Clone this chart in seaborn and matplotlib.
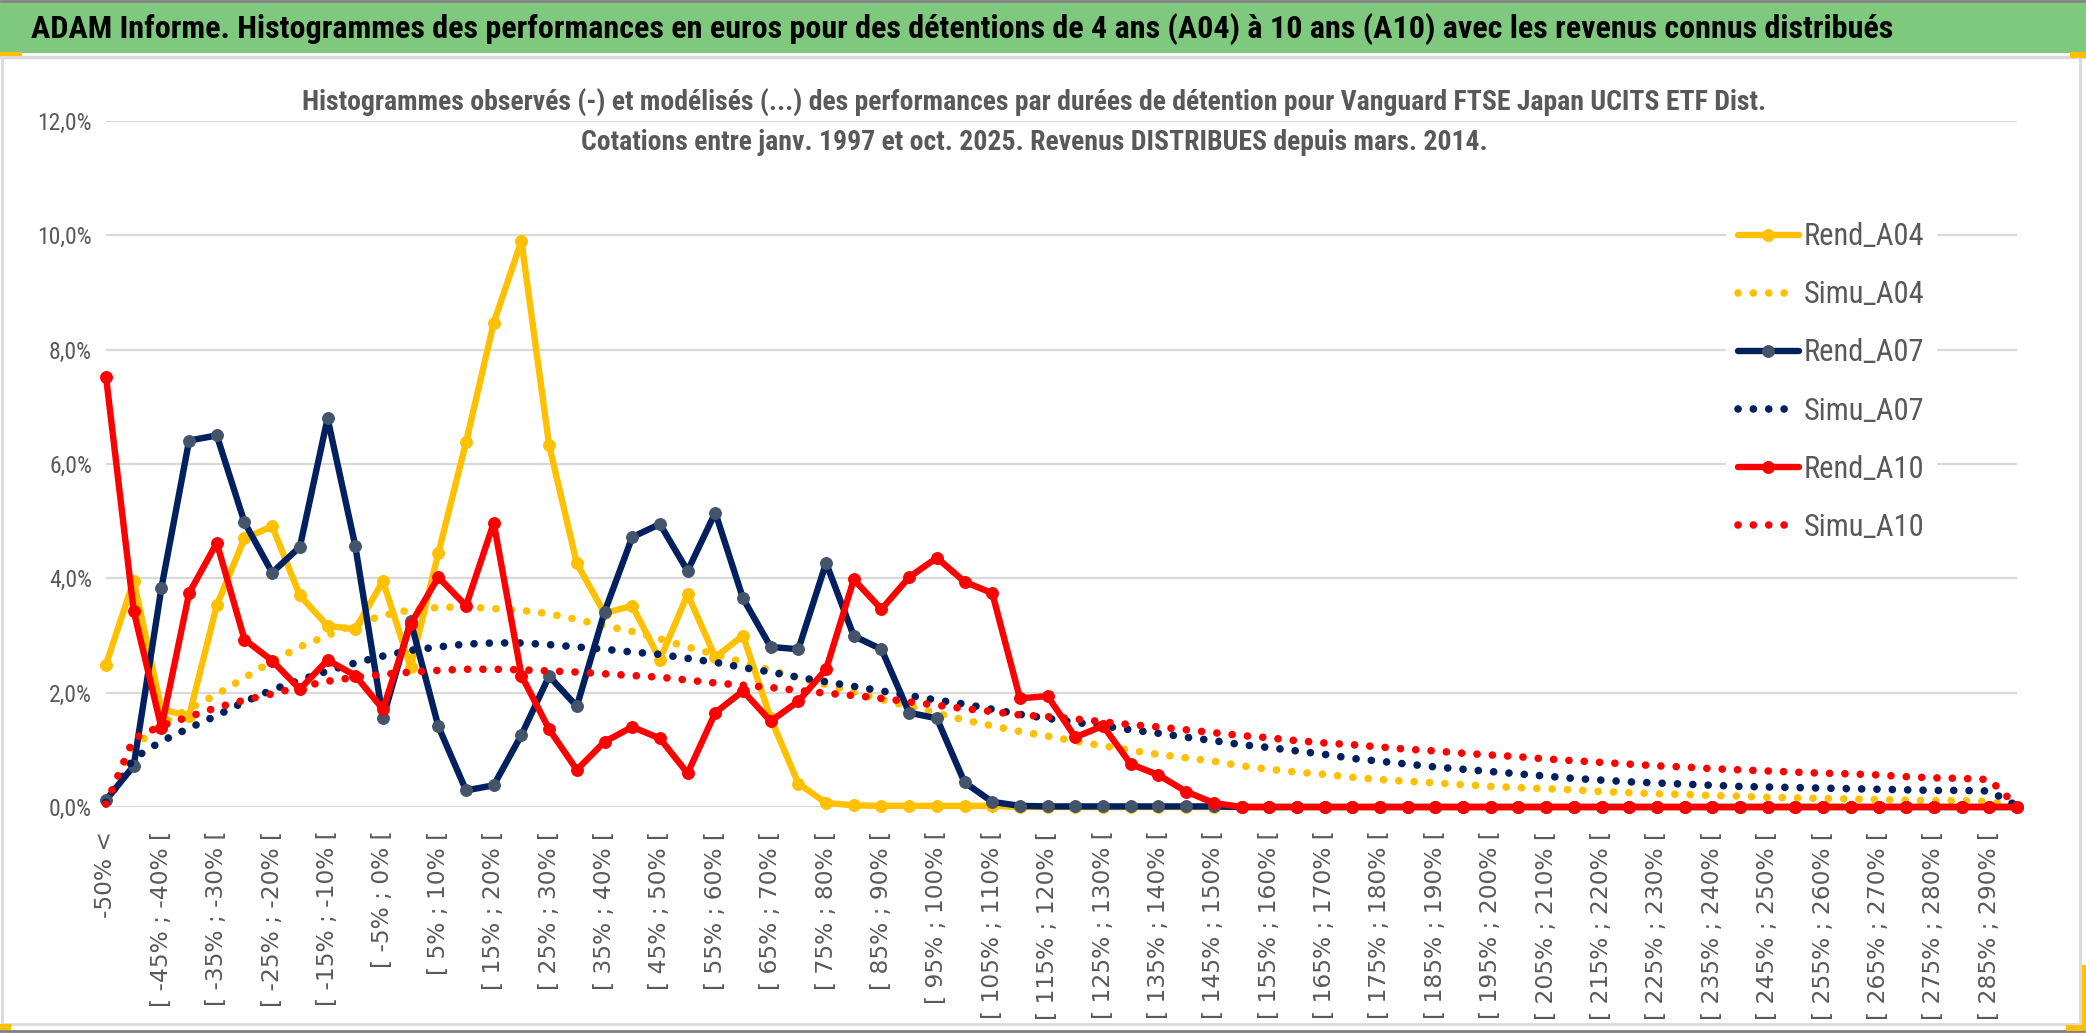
import numpy as np
import pandas as pd
import seaborn as sns
import matplotlib.pyplot as plt
from matplotlib.patches import Rectangle
from matplotlib.lines import Line2D
from matplotlib.ticker import FixedLocator, FuncFormatter

# Catégories (classes de performance de 5 %)
categories = ["-50% <"] + [f"[ {a}% ; {a + 5}% [" for a in range(-50, 295, 5)]

# Histogrammes observés (en %)
rend_a04 = [2.49, 3.96, 1.71, 1.59, 3.53, 4.70, 4.91, 3.70, 3.17, 3.11,
            3.95, 2.45, 4.44, 6.38, 8.47, 9.90, 6.33, 4.26, 3.39, 3.52,
            2.58, 3.72, 2.62, 3.00, 1.55, 0.41, 0.07, 0.03, 0.02, 0.02,
            0.02, 0.02, 0.02, 0, 0, 0, 0, 0, 0, 0,
            0, 0, 0, 0, 0, 0, 0, 0, 0, 0,
            0, 0, 0, 0, 0, 0, 0, 0, 0, 0,
            0, 0, 0, 0, 0, 0, 0, 0, 0, 0]
rend_a07 = [0.12, 0.72, 3.83, 6.41, 6.50, 4.98, 4.10, 4.55, 6.80, 4.57,
            1.55, 3.25, 1.41, 0.29, 0.38, 1.26, 2.29, 1.76, 3.41, 4.72,
            4.95, 4.13, 5.15, 3.65, 2.80, 2.76, 4.27, 2.99, 2.76, 1.65,
            1.55, 0.43, 0.09, 0.02, 0.01, 0.01, 0.01, 0.01, 0.01, 0.01,
            0.01, 0, 0, 0, 0, 0, 0, 0, 0, 0,
            0, 0, 0, 0, 0, 0, 0, 0, 0, 0,
            0, 0, 0, 0, 0, 0, 0, 0, 0, 0]
rend_a10 = [7.53, 3.43, 1.39, 3.74, 4.62, 2.93, 2.56, 2.06, 2.57, 2.30,
            1.71, 3.20, 4.02, 3.52, 4.97, 2.30, 1.36, 0.65, 1.14, 1.40,
            1.20, 0.59, 1.65, 2.03, 1.50, 1.85, 2.41, 3.98, 3.46, 4.02,
            4.36, 3.94, 3.74, 1.90, 1.94, 1.22, 1.42, 0.75, 0.56, 0.27,
            0.07, 0, 0, 0, 0, 0, 0, 0, 0, 0,
            0, 0, 0, 0, 0, 0, 0, 0, 0, 0,
            0, 0, 0, 0, 0, 0, 0, 0, 0, 0]

# Histogrammes modélisés (en %)
simu_a04 = [0.05, 1.05, 1.45, 1.72, 1.97, 2.26, 2.55, 2.80, 3.00, 3.20,
            3.35, 3.45, 3.49, 3.50, 3.47, 3.44, 3.38, 3.28, 3.17, 3.07,
            2.94, 2.80, 2.67, 2.53, 2.39, 2.26, 2.14, 2.01, 1.88, 1.76,
            1.64, 1.52, 1.42, 1.32, 1.24, 1.15, 1.07, 0.99, 0.92, 0.86,
            0.80, 0.72, 0.66, 0.61, 0.57, 0.52, 0.48, 0.45, 0.42, 0.39,
            0.36, 0.34, 0.32, 0.30, 0.27, 0.25, 0.23, 0.22, 0.20, 0.19,
            0.17, 0.16, 0.15, 0.14, 0.13, 0.12, 0.11, 0.11, 0.10, 0.00]
simu_a07 = [0.08, 0.85, 1.15, 1.38, 1.60, 1.84, 2.05, 2.22, 2.38, 2.52,
            2.64, 2.74, 2.80, 2.85, 2.87, 2.87, 2.84, 2.80, 2.76, 2.71,
            2.67, 2.60, 2.53, 2.44, 2.36, 2.27, 2.19, 2.11, 2.03, 1.95,
            1.87, 1.80, 1.71, 1.62, 1.55, 1.48, 1.42, 1.35, 1.29, 1.22,
            1.16, 1.09, 1.04, 0.98, 0.92, 0.85, 0.80, 0.75, 0.70, 0.66,
            0.62, 0.58, 0.54, 0.50, 0.47, 0.44, 0.42, 0.40, 0.38, 0.36,
            0.35, 0.34, 0.33, 0.32, 0.31, 0.30, 0.29, 0.29, 0.28, 0.02]
simu_a10 = [0.05, 1.20, 1.42, 1.58, 1.74, 1.87, 1.98, 2.10, 2.20, 2.27,
            2.32, 2.36, 2.39, 2.41, 2.41, 2.40, 2.38, 2.36, 2.33, 2.30,
            2.27, 2.22, 2.17, 2.13, 2.09, 2.04, 1.99, 1.95, 1.90, 1.84,
            1.78, 1.72, 1.67, 1.61, 1.58, 1.54, 1.49, 1.44, 1.40, 1.35,
            1.30, 1.25, 1.21, 1.16, 1.12, 1.09, 1.05, 1.01, 0.98, 0.94,
            0.91, 0.88, 0.84, 0.81, 0.78, 0.75, 0.72, 0.70, 0.67, 0.65,
            0.63, 0.61, 0.59, 0.58, 0.56, 0.53, 0.51, 0.50, 0.48, 0.02]

title = ("ADAM Informe. Histogrammes des performances en euros pour des détentions "
         "de 4 ans (A04) à 10 ans (A10) avec les revenus connus distribués")
subtitle = ("Histogrammes observés (-) et modélisés (...) des performances par durées de "
            "détention pour Vanguard FTSE Japan UCITS ETF Dist.\n"
            "Cotations entre janv. 1997 et oct. 2025. Revenus DISTRIBUES depuis mars. 2014.")

df = pd.DataFrame({
    "idx": np.arange(len(categories)),
    "Rend_A04": rend_a04, "Simu_A04": simu_a04,
    "Rend_A07": rend_a07, "Simu_A07": simu_a07,
    "Rend_A10": rend_a10, "Simu_A10": simu_a10,
})

JAUNE, MARINE, ROUGE = "#FFC000", "#002060", "#FF0000"
GRIS = "#595959"

sns.set_theme(style="white")
plt.rcParams['font.family'] = ['Roboto Condensed', 'Liberation Sans Narrow', 'Roboto', 'DejaVu Sans']

fig = plt.figure(figsize=(20.86, 10.33), dpi=100)
W, H = 2086, 1033
ax = fig.add_axes([106 / W, 1 - 807 / H, (2017 - 106) / W, (807 - 121) / H])

dot = (0, (0.01, 2.0))
series = [
    ("Rend_A04", dict(color=JAUNE, lw=4.6, marker="o", markersize=8.5,
                      markerfacecolor=JAUNE, markeredgecolor=JAUNE)),
    ("Simu_A04", dict(color=JAUNE, lw=5.5, linestyle=dot, dash_capstyle="round")),
    ("Rend_A07", dict(color=MARINE, lw=4.6, marker="o", markersize=8.5,
                      markerfacecolor="#44546A", markeredgecolor="#44546A")),
    ("Simu_A07", dict(color=MARINE, lw=5.5, linestyle=dot, dash_capstyle="round")),
    ("Rend_A10", dict(color=ROUGE, lw=4.6, marker="o", markersize=8.5,
                      markerfacecolor=ROUGE, markeredgecolor=ROUGE)),
    ("Simu_A10", dict(color=ROUGE, lw=5.5, linestyle=dot, dash_capstyle="round")),
]
for name, kw in series:
    sns.lineplot(data=df, x="idx", y=name, ax=ax, label=name, clip_on=False,
                 zorder=3, **kw)

ax.set_xlim(0, len(categories) - 1)
ax.set_ylim(0, 12)
ax.set_xlabel("")
ax.set_ylabel("")
for s in ax.spines.values():
    s.set_visible(False)

# axe des ordonnées
ax.yaxis.set_major_locator(FixedLocator(np.arange(0, 12.1, 2)))
ax.yaxis.set_major_formatter(FuncFormatter(lambda v, p: f"{v:.1f}%".replace(".", ",")))
ax.tick_params(axis="y", length=0, pad=10, labelsize=17, labelcolor=GRIS)
ax.grid(axis="y", which="major", color="#D9D9D9", lw=1.6)

# axe des catégories : une étiquette sur deux, quadrillage toutes les 4 classes
pos = np.arange(0, len(categories), 2)
ax.set_xticks(pos)
ax.set_xticklabels([categories[i] for i in pos], rotation=90, va="top", ha="center")
ax.xaxis.set_minor_locator(FixedLocator(np.arange(0, len(categories) - 1, 4)))
ax.tick_params(axis="x", which="major", length=0, pad=17, labelsize=16.8,
               labelcolor=GRIS, labelfontfamily="DejaVu Sans")
ax.tick_params(axis="x", which="minor", length=8, width=1.6, color="#D9D9D9")
ax.grid(axis="x", which="minor", color="#D9D9D9", lw=1.6)
ax.grid(axis="x", which="major", visible=False)
ax.set_axisbelow(True)

handles, labels = ax.get_legend_handles_labels()
leg = ax.legend(handles, labels, loc="center", bbox_to_anchor=(1831 / W, 1 - 382 / H),
                bbox_transform=fig.transFigure, fontsize=22, labelspacing=0.95,
                handlelength=2.0, handletextpad=0.15, frameon=True, fancybox=False,
                borderpad=0.4)
leg.get_frame().set_facecolor("white")
leg.get_frame().set_edgecolor("white")
leg.get_frame().set_alpha(1)
for t in leg.get_texts():
    t.set_color(GRIS)

# bandeau de titre
fig.patches.append(Rectangle((0, 1 - 53 / H), 1, 50 / H, transform=fig.transFigure,
                             facecolor="#7FC97F", edgecolor="none", zorder=0))
t_title = fig.text(31 / W, 1 - 29 / H, title, ha="left", va="center", fontsize=25,
                   fontweight="bold", color="black")
t_sub = fig.text(1034 / W, 1 - 122 / H, subtitle, ha="center", va="center", fontsize=20,
                 fontweight="bold", color=GRIS, linespacing=1.65)

# ajuster la taille des textes à la largeur observée
renderer = fig.canvas.get_renderer()
for txt, target in [(t_title, 1870), (t_sub, 1462)]:
    w = txt.get_window_extent(renderer).width
    if w > target:
        txt.set_fontsize(txt.get_fontsize() * target / w)

# cadres et repères
fig.add_artist(Line2D([0, 1], [1 - 1 / H, 1 - 1 / H], transform=fig.transFigure,
                      color="#7F7F7F", lw=2))
fig.add_artist(Line2D([0, 1], [1 - 57 / H, 1 - 57 / H], transform=fig.transFigure,
                      color="#D9D9D9", lw=2.5))
fig.add_artist(Line2D([2 / W, 2 / W, 2080 / W, 2080 / W],
                      [1 - 57 / H, 1 - 1024 / H, 1 - 1024 / H, 1 - 57 / H],
                      transform=fig.transFigure, color="#D9D9D9", lw=2))
fig.add_artist(Line2D([0, 1], [1 - 1031 / H, 1 - 1031 / H], transform=fig.transFigure,
                      color="#7F7F7F", lw=2))
for x0, y0, w, h in [(0, 52, 22, 4), (2070, 52, 16, 6), (0, 1024, 11, 6),
                     (2066, 1025, 20, 6), (2082, 965, 4, 60)]:
    fig.patches.append(Rectangle((x0 / W, 1 - (y0 + h) / H), w / W, h / H,
                                 transform=fig.transFigure, facecolor="#FFC000",
                                 edgecolor="none", zorder=5))

fig.savefig("out.png", dpi=100)
